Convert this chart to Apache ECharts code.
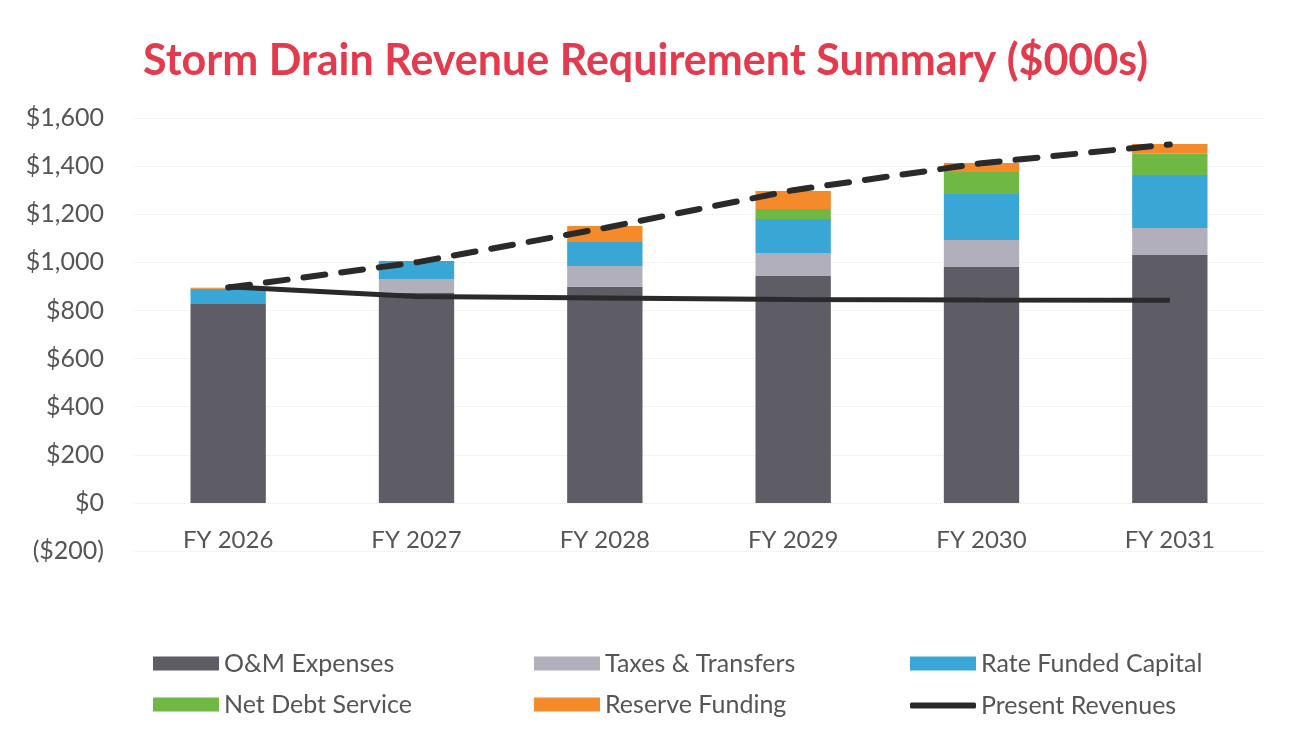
<!DOCTYPE html>
<html>
<head>
<meta charset="utf-8">
<script src="https://cdn.jsdelivr.net/npm/echarts@6/dist/echarts.min.js"></script>
<style>
  html, body { margin: 0; padding: 0; background: #fff; }
  #main { width: 1291px; height: 732px; }
</style>
</head>
<body>
<div id="main"></div>
<script>
// 数据
var years = ['FY 2026', 'FY 2027', 'FY 2028', 'FY 2029', 'FY 2030', 'FY 2031'];
var omExpenses = [827, 873, 898, 943, 981, 1031];
var taxesTransfers = [0, 58, 87, 96, 112, 112];
var rateFundedCapital = [63, 75, 100, 141, 191, 220];
var netDebtService = [0, 0, 0, 42, 92, 88];
var reserveFunding = [4, 0, 66, 75, 37, 41];
var presentRevenues = [898, 858, 852, 846, 843, 842];
var revenueRequirement = [895, 1000, 1143, 1300, 1412, 1490];

var fontName = 'Lato';
var textColor = '#555';

function money(v) {
    var s = Math.abs(v).toString().replace(/\B(?=(\d{3})+(?!\d))/g, ',');
    return v < 0 ? '($' + s + ')' : '$' + s;
}

function barSeries(name, data, color) {
    return {
        name: name,
        type: 'bar',
        stack: 'total',
        barWidth: '40%',
        itemStyle: { color: color },
        data: data
    };
}

// 每个图例单独放一个
function legendItem(name, left, top, h) {
    return {
        left: left,
        top: top,
        data: [name],
        itemWidth: 66,
        itemHeight: h || 14,
        itemGap: 6,
        icon: h ? 'roundRect' : 'rect',
        textStyle: { fontFamily: fontName, fontSize: 25, color: textColor }
    };
}

var chart = echarts.init(document.getElementById('main'));
chart.setOption({
    animation: false,
    title: {
        text: 'Storm Drain Revenue Requirement Summary ($000s)',
        left: 'center',
        top: 35,
        textStyle: { fontFamily: fontName, fontSize: 43, fontWeight: 'bold', color: '#e43a4d' }
    },
    grid: { left: 134, right: 27, top: 118, bottom: 181 },
    legend: [
        legendItem('O&M Expenses', 148, 646),
        legendItem('Net Debt Service', 148, 687),
        legendItem('Taxes & Transfers', 529, 646),
        legendItem('Reserve Funding', 529, 687),
        legendItem('Rate Funded Capital', 905, 646),
        legendItem('Present Revenues', 905, 688, 6)
    ],
    xAxis: {
        type: 'category',
        data: years,
        offset: -48,
        axisLine: { show: false },
        axisTick: { show: false },
        axisLabel: { fontFamily: fontName, fontSize: 24, color: textColor, margin: 25 }
    },
    yAxis: {
        type: 'value',
        min: -200,
        max: 1600,
        interval: 200,
        axisLabel: {
            fontFamily: fontName, fontSize: 25, color: textColor, margin: 30,
            formatter: money
        },
        splitLine: { lineStyle: { color: '#e8e8e8', type: 'dotted' } }
    },
    series: [
        barSeries('O&M Expenses', omExpenses, '#5e5d66'),
        barSeries('Taxes & Transfers', taxesTransfers, '#b0afbb'),
        barSeries('Rate Funded Capital', rateFundedCapital, '#39a7d6'),
        barSeries('Net Debt Service', netDebtService, '#6fb843'),
        barSeries('Reserve Funding', reserveFunding, '#f58a2a'),
        {
            name: 'Present Revenues',
            type: 'line',
            symbol: 'none',
            itemStyle: { color: '#2a2a2a' },
            lineStyle: { color: '#2a2a2a', width: 5 },
            data: presentRevenues,
            z: 5
        },
        {
            name: 'Revenue Requirement',
            type: 'line',
            symbol: 'none',
            lineStyle: { color: '#2a2a2a', width: 6, type: [22, 16], cap: 'round' },
            data: revenueRequirement,
            z: 6
        }
    ]
});
</script>
</body>
</html>
